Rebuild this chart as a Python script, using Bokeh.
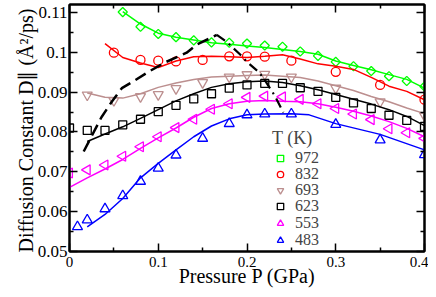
import math
from bokeh.plotting import figure
from bokeh.models import (Range1d, LinearAxis, FixedTicker, Legend, LegendItem,
                          CustomJSTickFormatter)
from bokeh.embed import file_html
from bokeh.resources import INLINE

# ---------------- data ----------------
P972 = [0.06, 0.08, 0.10, 0.12, 0.14, 0.16, 0.18, 0.20, 0.22, 0.24, 0.26, 0.28, 0.30, 0.32, 0.34, 0.36, 0.38, 0.40]
D972 = [0.1101, 0.1064, 0.1046, 0.1038, 0.1030, 0.1025, 0.1024, 0.1022, 0.1017, 0.1014, 0.1002, 0.0991, 0.0976, 0.0965, 0.0953, 0.0940, 0.0928, 0.0914]
FitP972 = P972
FitD972 = [0.1102, 0.1071, 0.1048, 0.1038, 0.1031, 0.1024, 0.1020, 0.1016, 0.1012, 0.1007, 0.1002, 0.0995, 0.0978, 0.0967, 0.0956, 0.0944, 0.0932, 0.0910]

P832 = [0.05, 0.08, 0.10, 0.12, 0.15, 0.18, 0.20, 0.22, 0.25, 0.30, 0.35, 0.40]
D832 = [0.0999, 0.0981, 0.0979, 0.0977, 0.0981, 0.0990, 0.0990, 0.0989, 0.0979, 0.0951, 0.0918, 0.0881]
FitP832 = [0.04, 0.06, 0.08, 0.10, 0.12, 0.14, 0.16, 0.18, 0.20, 0.22, 0.24, 0.26, 0.28, 0.30, 0.32, 0.34, 0.36, 0.38, 0.40]
FitD832 = [0.1022, 0.0987, 0.0973, 0.0962, 0.0978, 0.0989, 0.0990, 0.0989, 0.0987, 0.0990, 0.0994, 0.0983, 0.0971, 0.0965, 0.0957, 0.0937, 0.0915, 0.0902, 0.0881]

P693 = [0.02, 0.05, 0.08, 0.10, 0.12, 0.15, 0.18, 0.20, 0.22, 0.25, 0.30, 0.35, 0.40]
D693 = [0.0893, 0.0879, 0.0889, 0.0894, 0.0909, 0.0924, 0.0938, 0.0944, 0.0945, 0.0938, 0.0910, 0.0876, 0.0841]
FitP693 = [0.02, 0.04, 0.06, 0.08, 0.10, 0.12, 0.14, 0.16, 0.18, 0.20, 0.22, 0.24, 0.26, 0.28, 0.30, 0.32, 0.34, 0.36, 0.38, 0.40]
FitD693 = [0.0898, 0.0887, 0.0885, 0.0896, 0.0912, 0.0923, 0.0932, 0.0938, 0.0940, 0.0942, 0.0943, 0.0940, 0.0937, 0.0928, 0.0916, 0.0904, 0.0889, 0.0876, 0.0860, 0.0846]

P623 = [0.00, 0.02, 0.04, 0.06, 0.08, 0.10, 0.12, 0.14, 0.16, 0.18, 0.20, 0.22, 0.24, 0.26, 0.28, 0.30, 0.32, 0.34, 0.36, 0.38, 0.40]
D623 = [0.0810, 0.0804, 0.0804, 0.0818, 0.0832, 0.0851, 0.0867, 0.0883, 0.0896, 0.0910, 0.0918, 0.0922, 0.0922, 0.0911, 0.0902, 0.0887, 0.0873, 0.0859, 0.0842, 0.0829, 0.0814]
FitP623 = [0.02, 0.04, 0.06, 0.08, 0.10, 0.12, 0.14, 0.16, 0.18, 0.20, 0.22, 0.24, 0.26, 0.28, 0.30, 0.32, 0.34, 0.36, 0.38, 0.40]
FitD623 = [0.0776, 0.0795, 0.0813, 0.0834, 0.0856, 0.0878, 0.0896, 0.0912, 0.0921, 0.0926, 0.0928, 0.0924, 0.0916, 0.0906, 0.0894, 0.0882, 0.0870, 0.0856, 0.0839, 0.0816]

P553 = [0.00, 0.02, 0.04, 0.06, 0.08, 0.10, 0.12, 0.14, 0.16, 0.18, 0.20, 0.22, 0.24, 0.26, 0.28, 0.30, 0.32, 0.34, 0.36, 0.38, 0.40]
D553 = [0.0697, 0.0705, 0.0717, 0.0739, 0.0763, 0.0788, 0.0811, 0.0832, 0.0857, 0.0871, 0.0887, 0.0890, 0.0888, 0.0882, 0.0871, 0.0859, 0.0845, 0.0831, 0.0808, 0.0798, 0.0784]
FitP553 = P553
FitD553 = [0.0661, 0.0685, 0.0707, 0.0731, 0.0759, 0.0785, 0.0810, 0.0837, 0.0859, 0.0871, 0.0877, 0.0879, 0.0877, 0.0876, 0.0871, 0.0862, 0.0852, 0.0840, 0.0826, 0.0809, 0.0788]

P483 = [0.009, 0.02, 0.04, 0.06, 0.08, 0.10, 0.12, 0.15, 0.18, 0.20, 0.22, 0.25, 0.30, 0.35, 0.40]
D483 = [0.0562, 0.0579, 0.0607, 0.0640, 0.0676, 0.0709, 0.0742, 0.0784, 0.0821, 0.0843, 0.0845, 0.0845, 0.0819, 0.0780, 0.0743]
FitP483 = [0.02, 0.04, 0.06, 0.08, 0.10, 0.12, 0.14, 0.16, 0.18, 0.20, 0.22, 0.25, 0.27, 0.30, 0.35, 0.40]
FitD483 = [0.0562, 0.0593, 0.0633, 0.0685, 0.0721, 0.0755, 0.0788, 0.0815, 0.0833, 0.0843, 0.0845, 0.0846, 0.0843, 0.0821, 0.0794, 0.0755]

# boundary curve (dashed rising part, dash-dot falling part)
BoundP_up = [0.016, 0.036, 0.048, 0.059, 0.074, 0.089, 0.108, 0.132, 0.144, 0.159, 0.166]
BoundD_up = [0.0751, 0.0837, 0.0877, 0.0910, 0.0930, 0.0951, 0.0975, 0.0999, 0.1020, 0.1036, 0.1044]
BoundP_down = [0.166, 0.176, 0.192, 0.200, 0.213, 0.219, 0.231, 0.241]
BoundD_down = [0.1044, 0.1028, 0.0995, 0.0976, 0.0951, 0.0934, 0.0892, 0.0849]

temps = ["972", "832", "693", "623", "553", "483"]
x_ticks = [0.0, 0.1, 0.2, 0.3, 0.4]
x_minor = [0.05, 0.15, 0.25, 0.35]
y_ticks = [0.05, 0.06, 0.07, 0.08, 0.09, 0.10, 0.11]
y_minor = [0.055, 0.065, 0.075, 0.085, 0.095, 0.105]

SERIF = "Liberation Serif"

p = figure(width=428, height=289, x_range=Range1d(0, 0.4), y_range=Range1d(0.05, 0.112),
           output_backend="svg", toolbar_location=None,
           min_border_left=69, min_border_right=4, min_border_top=4, min_border_bottom=30,
           x_axis_label="Pressure P (GPa)",
           y_axis_label="Diffusion Constant  D\u2225 (\u00c5\u00b2/ps)")
p.xgrid.visible = False
p.ygrid.visible = False
p.outline_line_color = "black"
p.outline_line_width = 2
p.background_fill_color = "white"
p.border_fill_color = "white"

fmt = CustomJSTickFormatter(code="return String(Number(tick.toFixed(3)));")
blank = CustomJSTickFormatter(code="return '';")


def style_axis(ax, ticks, minor, show_labels):
    ax.ticker = FixedTicker(ticks=ticks, minor_ticks=minor)
    ax.formatter = fmt if show_labels else blank
    ax.major_tick_in = 8
    ax.major_tick_out = 0
    ax.minor_tick_in = 4
    ax.minor_tick_out = 0
    ax.major_tick_line_width = 1.5
    ax.minor_tick_line_width = 1.5
    ax.axis_line_width = 2
    ax.major_label_text_font = SERIF
    ax.major_label_text_font_size = "15px"
    ax.major_label_standoff = 3 if show_labels else 0
    ax.axis_label_text_font = SERIF
    ax.axis_label_text_font_style = "normal"
    ax.axis_label_text_color = "black"
    ax.major_label_text_color = "black"


style_axis(p.xaxis[0], x_ticks, x_minor, True)
style_axis(p.yaxis[0], y_ticks, y_minor, True)
p.xaxis[0].major_label_standoff = 5
p.xaxis[0].axis_label_text_font_size = "20px"
p.xaxis[0].axis_label_standoff = -5
p.yaxis[0].major_label_text_font_size = "17px"
p.yaxis[0].major_label_standoff = 2
p.yaxis[0].axis_label_text_font_size = "20px"
p.yaxis[0].axis_label_standoff = -2

top = LinearAxis()
style_axis(top, x_ticks, x_minor, False)
p.add_layout(top, "above")
right = LinearAxis()
style_axis(right, y_ticks, y_minor, False)
p.add_layout(right, "right")

series = [
    (P972, D972, FitP972, FitD972, "#00ff00", "square", math.pi / 4, 6.5),
    (P832, D832, FitP832, FitD832, "#ff0000", "circle", 0, 9),
    (P693, D693, FitP693, FitD693, "#bc8f8f", "inverted_triangle", 0, 10),
    (P623, D623, FitP623, FitD623, "#000000", "square", 0, 8),
    (P553, D553, FitP553, FitD553, "#ff00ff", "triangle", math.pi / 2, 10),
    (P483, D483, FitP483, FitD483, "#0000ff", "triangle", 0, 10),
]

renderers = []
for px, dy, fx, fy, col, mk, ang, sz in series:
    p.line(fx, fy, line_color=col, line_width=1.5)
    r = p.scatter(px, dy, marker=mk, angle=ang, size=sz, line_color=col,
                  fill_color=None, line_width=1.3)
    renderers.append(r)

p.line(BoundP_up, BoundD_up, line_color="black", line_width=2.5, line_dash="12 6")
p.line(BoundP_down, BoundD_down, line_color="black", line_width=2.2, line_dash="10 5 2 5")

# one small legend per entry so the rows can sit closely together
legend_offsets = [84, 68, 52, 36, 19, 2]
for i, (t, r, off) in enumerate(zip(temps, renderers, legend_offsets)):
    kw = dict(title="T (K)", title_text_font=SERIF, title_text_font_size="18px",
              title_text_font_style="normal", title_standoff=0) if i == 0 else {}
    lg = Legend(items=[LegendItem(label=t, renderers=[r])], location=(203, off),
                label_text_font=SERIF, label_text_font_size="16px",
                glyph_width=16, glyph_height=16, label_height=16, label_standoff=7,
                spacing=0, padding=0, margin=0,
                border_line_alpha=0, background_fill_alpha=0, **kw)
    p.add_layout(lg, "center")

open("out.html", "w").write(file_html(p, INLINE))
